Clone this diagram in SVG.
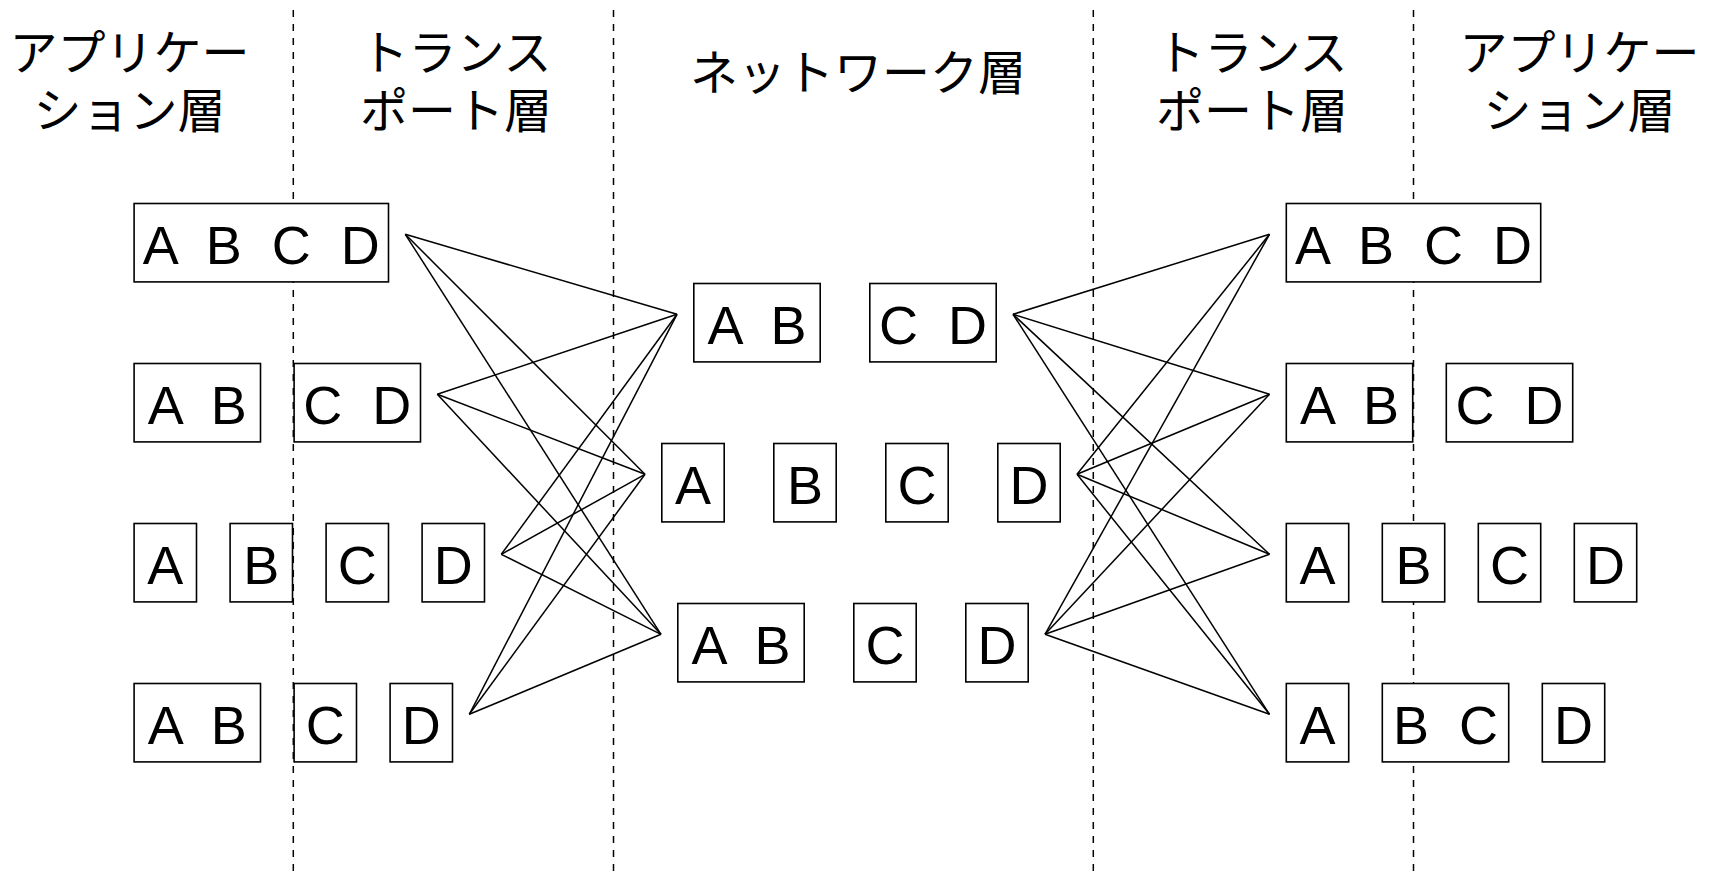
<svg xmlns="http://www.w3.org/2000/svg" width="1715" height="873" viewBox="0 0 1715 873">
<style>
  .bg { fill: #ffffff; }
  .sep { stroke: #000; stroke-width: 1.5; stroke-dasharray: 7 7; fill: none; }
  .box { fill: #ffffff; stroke: #000; stroke-width: 1.6; }
  .lbl { font-family: "Liberation Sans", Arial, sans-serif; font-size: 54px; text-anchor: middle; fill: #000; white-space: pre; }
  .jp { font-family: "Noto Sans CJK JP", "Noto Sans CJK SC", sans-serif; font-size: 48px; font-weight: 400; text-anchor: middle; fill: #000; }
  .conn line { stroke: #000; stroke-width: 1.5; }
</style>
<rect class="bg" x="0" y="0" width="1715" height="873"/>

<g id="separators">
  <line class="sep" x1="293.3" y1="10" x2="293.3" y2="873"/>
  <line class="sep" x1="613.5" y1="10" x2="613.5" y2="873"/>
  <line class="sep" x1="1093.3" y1="10" x2="1093.3" y2="873"/>
  <line class="sep" x1="1413.5" y1="10" x2="1413.5" y2="873"/>
</g>

<g id="headers">
  <text id="h-app-left" class="jp"><tspan x="129.5" y="69.5">アプリケー</tspan><tspan x="129.5" y="128">ション層</tspan></text>
  <text id="h-trans-left" class="jp"><tspan x="456" y="69.5">トランス</tspan><tspan x="456" y="128">ポート層</tspan></text>
  <text id="h-net" class="jp" x="858" y="90">ネットワーク層</text>
  <text id="h-trans-right" class="jp"><tspan x="1252" y="69.5">トランス</tspan><tspan x="1252" y="128">ポート層</tspan></text>
  <text id="h-app-right" class="jp"><tspan x="1579.5" y="69.5">アプリケー</tspan><tspan x="1579.5" y="128">ション層</tspan></text>
</g>

<g id="connectors" class="conn">
  <line x1="405.3" y1="234.3" x2="677" y2="314.3"/>
  <line x1="405.3" y1="234.3" x2="645" y2="474.3"/>
  <line x1="405.3" y1="234.3" x2="661" y2="634.3"/>
  <line x1="437.3" y1="394.3" x2="677" y2="314.3"/>
  <line x1="437.3" y1="394.3" x2="645" y2="474.3"/>
  <line x1="437.3" y1="394.3" x2="661" y2="634.3"/>
  <line x1="501.3" y1="554.3" x2="677" y2="314.3"/>
  <line x1="501.3" y1="554.3" x2="645" y2="474.3"/>
  <line x1="501.3" y1="554.3" x2="661" y2="634.3"/>
  <line x1="469.3" y1="714.3" x2="677" y2="314.3"/>
  <line x1="469.3" y1="714.3" x2="645" y2="474.3"/>
  <line x1="469.3" y1="714.3" x2="661" y2="634.3"/>
  <line x1="1013" y1="314.3" x2="1269.5" y2="234.3"/>
  <line x1="1013" y1="314.3" x2="1269.5" y2="394.3"/>
  <line x1="1013" y1="314.3" x2="1269.5" y2="554.3"/>
  <line x1="1013" y1="314.3" x2="1269.5" y2="714.3"/>
  <line x1="1077" y1="474.3" x2="1269.5" y2="234.3"/>
  <line x1="1077" y1="474.3" x2="1269.5" y2="394.3"/>
  <line x1="1077" y1="474.3" x2="1269.5" y2="554.3"/>
  <line x1="1077" y1="474.3" x2="1269.5" y2="714.3"/>
  <line x1="1045" y1="634.3" x2="1269.5" y2="234.3"/>
  <line x1="1045" y1="634.3" x2="1269.5" y2="394.3"/>
  <line x1="1045" y1="634.3" x2="1269.5" y2="554.3"/>
  <line x1="1045" y1="634.3" x2="1269.5" y2="714.3"/>
</g>

<!-- Left application / transport column -->
<g id="left-r1">
  <rect class="box" x="134.1" y="203.5" width="254.4" height="78.4"/>
  <text class="lbl" x="261.3" y="263.7">A  B  C  D</text>
</g>
<g id="left-r2-ab">
  <rect class="box" x="134.1" y="363.5" width="126.4" height="78.4"/>
  <text class="lbl" x="197.3" y="423.7">A  B</text>
</g>
<g id="left-r2-cd">
  <rect class="box" x="294.1" y="363.5" width="126.4" height="78.4"/>
  <text class="lbl" x="357.3" y="423.7">C  D</text>
</g>
<g id="left-r3-a">
  <rect class="box" x="134.1" y="523.5" width="62.4" height="78.4"/>
  <text class="lbl" x="165.3" y="583.7">A</text>
</g>
<g id="left-r3-b">
  <rect class="box" x="230.1" y="523.5" width="62.4" height="78.4"/>
  <text class="lbl" x="261.3" y="583.7">B</text>
</g>
<g id="left-r3-c">
  <rect class="box" x="326.1" y="523.5" width="62.4" height="78.4"/>
  <text class="lbl" x="357.3" y="583.7">C</text>
</g>
<g id="left-r3-d">
  <rect class="box" x="422.1" y="523.5" width="62.4" height="78.4"/>
  <text class="lbl" x="453.3" y="583.7">D</text>
</g>
<g id="left-r4-ab">
  <rect class="box" x="134.1" y="683.5" width="126.4" height="78.4"/>
  <text class="lbl" x="197.3" y="743.7">A  B</text>
</g>
<g id="left-r4-c">
  <rect class="box" x="294.1" y="683.5" width="62.4" height="78.4"/>
  <text class="lbl" x="325.3" y="743.7">C</text>
</g>
<g id="left-r4-d">
  <rect class="box" x="390.1" y="683.5" width="62.4" height="78.4"/>
  <text class="lbl" x="421.3" y="743.7">D</text>
</g>

<!-- Network column -->
<g id="net-r1-ab">
  <rect class="box" x="693.8" y="283.5" width="126.4" height="78.4"/>
  <text class="lbl" x="757" y="343.7">A  B</text>
</g>
<g id="net-r1-cd">
  <rect class="box" x="869.8" y="283.5" width="126.4" height="78.4"/>
  <text class="lbl" x="933" y="343.7">C  D</text>
</g>
<g id="net-r2-a">
  <rect class="box" x="661.8" y="443.5" width="62.4" height="78.4"/>
  <text class="lbl" x="693" y="503.7">A</text>
</g>
<g id="net-r2-b">
  <rect class="box" x="773.8" y="443.5" width="62.4" height="78.4"/>
  <text class="lbl" x="805" y="503.7">B</text>
</g>
<g id="net-r2-c">
  <rect class="box" x="885.8" y="443.5" width="62.4" height="78.4"/>
  <text class="lbl" x="917" y="503.7">C</text>
</g>
<g id="net-r2-d">
  <rect class="box" x="997.8" y="443.5" width="62.4" height="78.4"/>
  <text class="lbl" x="1029" y="503.7">D</text>
</g>
<g id="net-r3-ab">
  <rect class="box" x="677.8" y="603.5" width="126.4" height="78.4"/>
  <text class="lbl" x="741" y="663.7">A  B</text>
</g>
<g id="net-r3-c">
  <rect class="box" x="853.8" y="603.5" width="62.4" height="78.4"/>
  <text class="lbl" x="885" y="663.7">C</text>
</g>
<g id="net-r3-d">
  <rect class="box" x="965.8" y="603.5" width="62.4" height="78.4"/>
  <text class="lbl" x="997" y="663.7">D</text>
</g>

<!-- Right transport / application column -->
<g id="right-r1">
  <rect class="box" x="1286.3" y="203.5" width="254.4" height="78.4"/>
  <text class="lbl" x="1413.5" y="263.7">A  B  C  D</text>
</g>
<g id="right-r2-ab">
  <rect class="box" x="1286.3" y="363.5" width="126.4" height="78.4"/>
  <text class="lbl" x="1349.5" y="423.7">A  B</text>
</g>
<g id="right-r2-cd">
  <rect class="box" x="1446.3" y="363.5" width="126.4" height="78.4"/>
  <text class="lbl" x="1509.5" y="423.7">C  D</text>
</g>
<g id="right-r3-a">
  <rect class="box" x="1286.3" y="523.5" width="62.4" height="78.4"/>
  <text class="lbl" x="1317.5" y="583.7">A</text>
</g>
<g id="right-r3-b">
  <rect class="box" x="1382.3" y="523.5" width="62.4" height="78.4"/>
  <text class="lbl" x="1413.5" y="583.7">B</text>
</g>
<g id="right-r3-c">
  <rect class="box" x="1478.3" y="523.5" width="62.4" height="78.4"/>
  <text class="lbl" x="1509.5" y="583.7">C</text>
</g>
<g id="right-r3-d">
  <rect class="box" x="1574.3" y="523.5" width="62.4" height="78.4"/>
  <text class="lbl" x="1605.5" y="583.7">D</text>
</g>
<g id="right-r4-a">
  <rect class="box" x="1286.3" y="683.5" width="62.4" height="78.4"/>
  <text class="lbl" x="1317.5" y="743.7">A</text>
</g>
<g id="right-r4-bc">
  <rect class="box" x="1382.3" y="683.5" width="126.4" height="78.4"/>
  <text class="lbl" x="1445.5" y="743.7">B  C</text>
</g>
<g id="right-r4-d">
  <rect class="box" x="1542.3" y="683.5" width="62.4" height="78.4"/>
  <text class="lbl" x="1573.5" y="743.7">D</text>
</g>
</svg>
